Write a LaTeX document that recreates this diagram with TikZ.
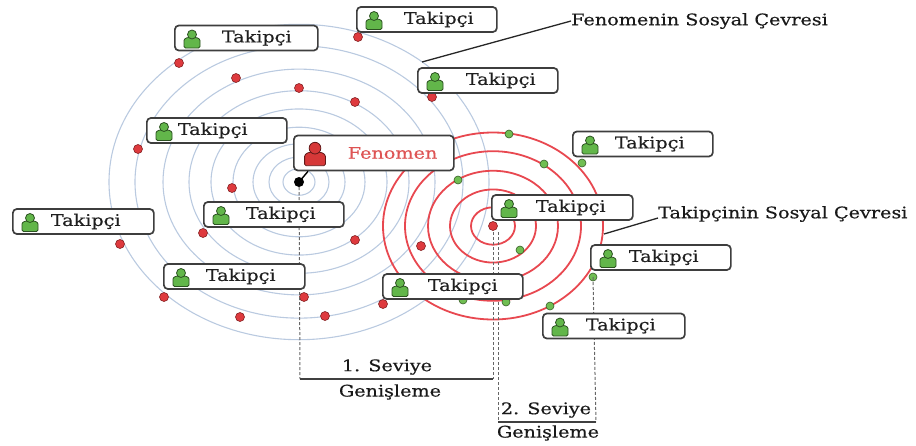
\documentclass[tikz,border=0pt]{standalone}
\usepackage{fontspec}
\setmainfont{DejaVu Serif}[FakeStretch=1.2, FakeBold=0.4]
\usetikzlibrary{calc}
\definecolor{ringblue}{RGB}{186,202,224}
\definecolor{ringred}{RGB}{232,72,80}
\definecolor{dotred}{RGB}{222,58,62}
\definecolor{dotgreen}{RGB}{112,190,82}
\definecolor{mangreen}{RGB}{98,182,74}
\definecolor{manred}{RGB}{214,56,56}
\definecolor{boxgray}{RGB}{62,62,62}
\definecolor{fentext}{RGB}{222,84,84}
\newcommand{\tkfont}{\fontsize{16}{18}\selectfont}
\tikzset{
  box/.style={draw=boxgray, line width=1.7pt, rounded corners=4pt, fill=white,
    minimum height=25pt, inner xsep=4pt, inner ysep=0pt, align=left,
    text width=132pt, anchor=west, font=\tkfont, text=black!88},
  lbl/.style={font=\tkfont, text=black!90, inner sep=0pt},
  dashline/.style={draw=black!60, line width=1pt, dash pattern=on 3pt off 2pt},
  levelline/.style={draw=black!75, line width=1.5pt},
  reddot/.style={fill=dotred, draw=dotred!60!black, line width=0.6pt},
  greendot/.style={fill=dotgreen, draw=dotgreen!50!black, line width=0.6pt},
  pics/person/.style={code={
    \filldraw[draw=#1!45!black, fill=#1, line width=0.8pt, rounded corners=1.5pt]
      (-8,9) -- (-8,3) .. controls (-8,-3) and (8,-3) .. (8,3) -- (8,9) -- cycle;
    \filldraw[draw=#1!45!black, fill=#1, line width=0.8pt] (0,-4.5) circle (4.5);
  }}
}
\begin{document}
\begin{tikzpicture}[x=1pt, y=-1pt]
\useasboundingbox (0,0) rectangle (916,445);
\coordinate (fc) at (299,182);
\coordinate (rc) at (493,226);
% circles
\foreach \r in {16,30,46,66,88,110,136,164,190}
  \draw[ringblue, line width=1.1pt] (fc) ellipse [x radius=\r, y radius=0.83*\r];
\foreach \r in {22,43,65,88,110}
  \draw[ringred, line width=1.8pt] (rc) ellipse [x radius=\r, y radius=0.85*\r];
% dots
\foreach \x/\y in {358/37,179/63,236/78,299/88,355/102,432/97,138/149,232/188,120/244,
    203/233,355/240,421/246,164/297,240/317,304/297,325/316,383/304}
  \filldraw[reddot] (\x,\y) circle (4.5);
\foreach \x/\y in {509/134,544/164,582/163,458/180,520/250,463/300,506/302,550/306}
  \filldraw[greendot] (\x,\y) circle (4);
\coordinate (g2) at (593,277);
\filldraw[greendot] (g2) circle (4);
\filldraw[reddot] (rc) circle (4.5);
% levels
\coordinate (l1a) at (300,379);
\coordinate (l1b) at (493,379);
\coordinate (l2a) at (498,422);
\coordinate (l2b) at (596,422);
\draw[dashline] (fc) -- (l1a);
\draw[dashline] ([yshift=-6pt]rc.center) -- (l1b);
\draw[dashline] ([xshift=5pt,yshift=-6pt]rc.center) -- (l2a);
\draw[dashline] (g2) -- (l2b);
\draw[levelline] (l1a) -- (l1b);
\draw[levelline] (l2a) -- (l2b);
\node[lbl] (s1) at (387,367) {1. Seviye};
\node[lbl] (e1) at (390,392) {Genişleme};
\node[lbl] (s2) at (546,410) {2. Seviye};
\node[lbl] (e2) at (548,433) {Genişleme};
% circle labels
\coordinate (bring) at (422,62);
\coordinate (rring) at (604,234);
\node[lbl, anchor=west] (fsc) at (571,21) {Fenomenin Sosyal Çevresi};
\node[lbl, anchor=west] (tsc) at (658,214) {Takipçinin Sosyal Çevresi};
\draw[black!85, line width=1.3pt] (bring) -- (fsc.west);
\draw[black!85, line width=1.3pt] (rring) -- ([yshift=-4pt]tsc.west);
% boxes
\node[box] (t1) at (356,19.5) {\hspace*{43pt}Takipçi};
\node[box, text width=135pt] (t2) at (174,38) {\hspace*{43pt}Takipçi};
\node[box] (t3) at (417,80.5) {\hspace*{44pt}Takipçi};
\node[box] (t4) at (146,130.5) {\hspace*{27pt}Takipçi};
\node[box] (t6) at (572,144) {\hspace*{38pt}Takipçi};
\node[box] (t7) at (203,214.5) {\hspace*{38pt}Takipçi};
\node[box, text width=133pt] (t8) at (12,221.5) {\hspace*{34pt}Takipçi};
\node[box, text width=133pt] (t9) at (491,207.5) {\hspace*{40pt}Takipçi};
\node[box] (t10) at (590,257.5) {\hspace*{34pt}Takipçi};
\node[box, text width=133pt] (t11) at (163,276.5) {\hspace*{38pt}Takipçi};
\node[box] (t12) at (382,286.5) {\hspace*{41pt}Takipçi};
\node[box, text width=134pt] (t13) at (542,326) {\hspace*{39pt}Takipçi};
\foreach \n in {t1,t2,t3,t4,t6,t7,t8,t9,t10,t11,t12,t13}
  \pic at ([xshift=18pt,yshift=-1pt]\n.west) {person=mangreen};
\node[box, minimum height=35pt, text width=152pt, text=fentext] (fen) at (293,153)
  {\hspace*{50pt}Fenomen};
\pic[scale=1.3] at ([xshift=22pt,yshift=-1pt]fen.west) {person=manred};
% fenomen point
\draw[black, line width=1.4pt] (fc) -- ([xshift=15pt]fen.south west);
\fill[black] (fc) circle (5);
\end{tikzpicture}
\end{document}
